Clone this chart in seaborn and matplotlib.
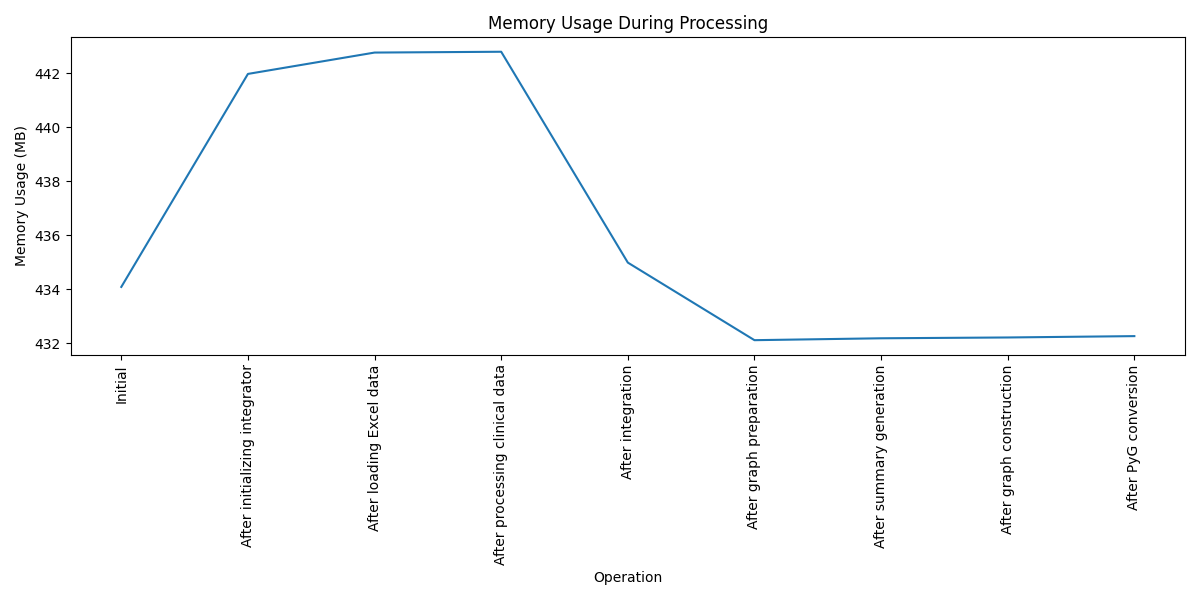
import pandas as pd
import matplotlib.pyplot as plt
import seaborn as sns

operations = ['Initial', 'After initializing integrator', 'After loading Excel data',
              'After processing clinical data', 'After integration', 'After graph preparation',
              'After summary generation', 'After graph construction', 'After PyG conversion']
memory_mb = [434.09, 441.97, 442.76, 442.79, 434.99, 432.12, 432.19, 432.22, 432.27]

df = pd.DataFrame({'Operation': operations, 'Memory Usage (MB)': memory_mb})

plt.figure(figsize=(12, 6))
ax = sns.lineplot(x='Operation', y='Memory Usage (MB)', data=df, sort=False)
ax.set_title('Memory Usage During Processing')
plt.xticks(rotation=90)
plt.tight_layout()
plt.savefig('out.png', dpi=100)
